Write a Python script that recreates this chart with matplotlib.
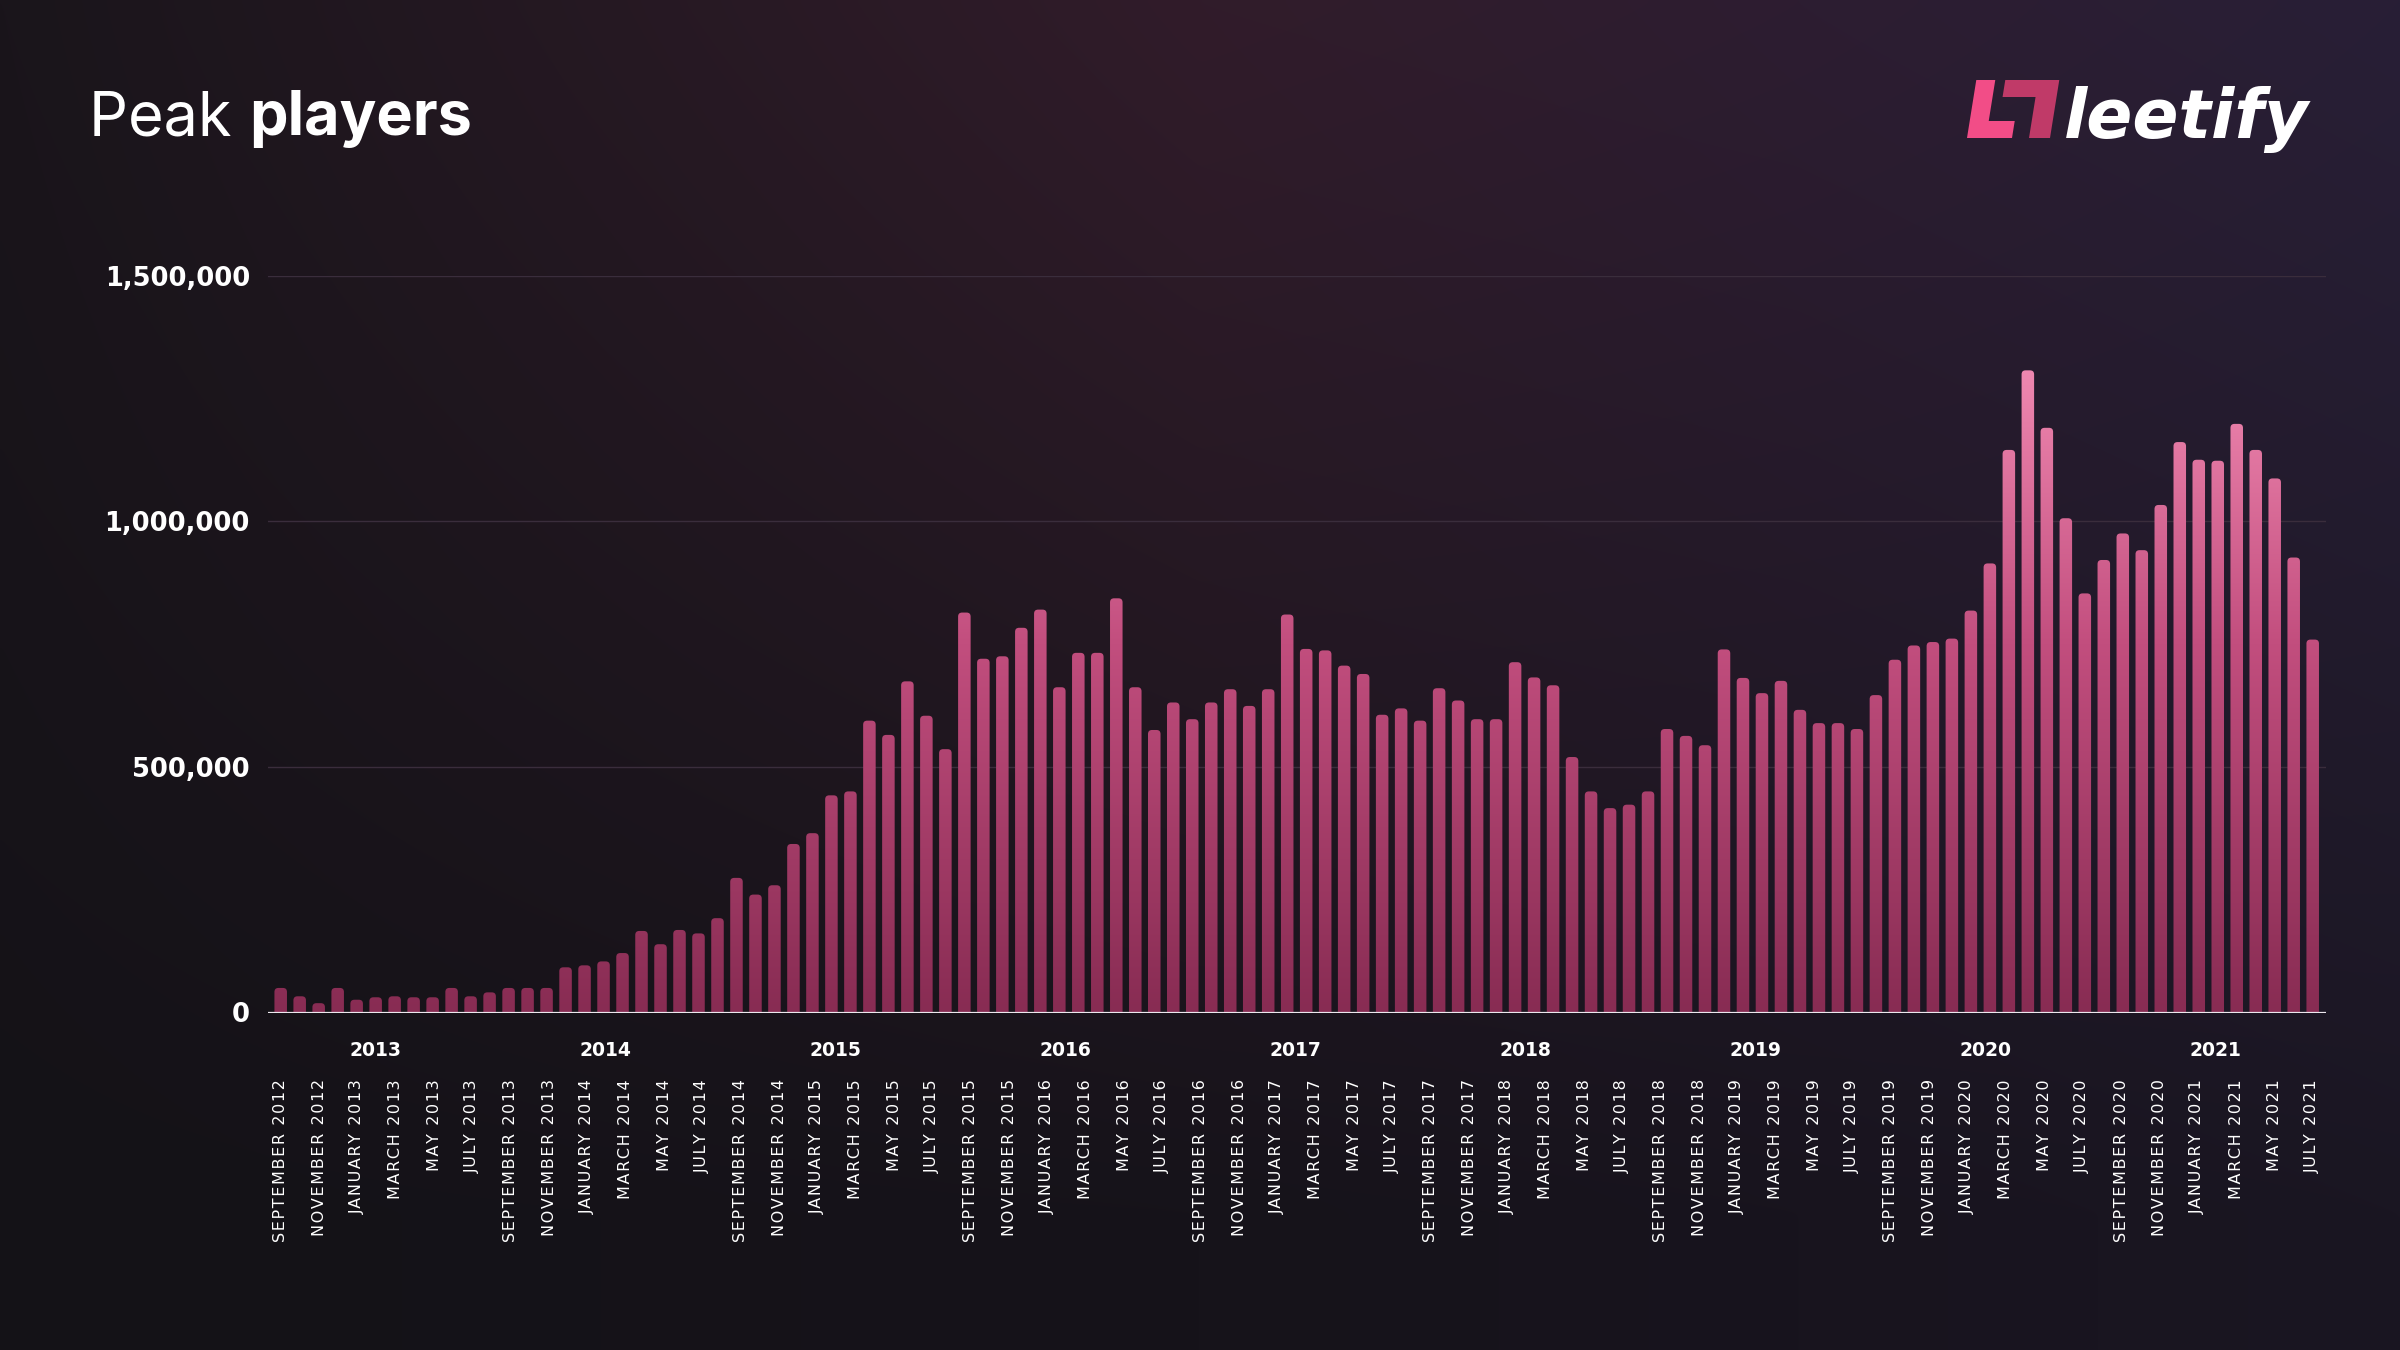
import numpy as np
import matplotlib.pyplot as plt
from matplotlib.patches import FancyBboxPatch, PathPatch, Polygon
from matplotlib.path import Path
from matplotlib.colors import LinearSegmentedColormap
from matplotlib.transforms import blended_transform_factory

# --- data: monthly peak players, August 2012 .. July 2021 ---
peak_players = [
    50000, 33000, 19000, 50000, 26000, 31000, 33000, 31000, 31000, 50000,
    33000, 41000, 50000, 50000, 50000, 92000, 96000, 104000, 121000, 166000,
    139000, 168000, 161000, 192000, 274000, 240000, 259000, 343000, 365000, 442000,
    450000, 594000, 565000, 674000, 604000, 536000, 814000, 720000, 725000, 783000,
    820000, 662000, 732000, 732000, 843000, 662000, 575000, 631000, 597000, 631000,
    658000, 624000, 658000, 810000, 740000, 737000, 706000, 689000, 606000, 619000,
    594000, 660000, 635000, 597000, 597000, 713000, 682000, 666000, 520000, 450000,
    416000, 423000, 450000, 577000, 563000, 544000, 739000, 681000, 650000, 675000,
    616000, 589000, 589000, 577000, 646000, 718000, 747000, 754000, 761000, 818000,
    914000, 1145000, 1307000, 1190000, 1006000, 853000, 921000, 975000, 941000, 1033000,
    1161000, 1125000, 1123000, 1198000, 1145000, 1087000, 926000, 759000,
]

month_names = ['JANUARY', 'FEBRUARY', 'MARCH', 'APRIL', 'MAY', 'JUNE', 'JULY',
               'AUGUST', 'SEPTEMBER', 'OCTOBER', 'NOVEMBER', 'DECEMBER']
month_ticks = []
m, y = 9, 2012
while (y, m) <= (2021, 7):
    month_ticks.append(f'{month_names[m - 1]} {y}')
    m += 2
    if m > 12:
        m -= 12
        y += 1

years = [2013, 2014, 2015, 2016, 2017, 2018, 2019, 2020, 2021]
y_ticks = [0, 500000, 1000000, 1500000]

W_PX, H_PX = 2400, 1350
fx = lambda px: px / W_PX
fy = lambda py: 1 - py / H_PX


def spaced(s):
    # fake letter spacing with hair spaces
    return '\u200a'.join(s)


fig = plt.figure(figsize=(24, 13.5), dpi=100)

# --- background gradient ---
bg_ax = fig.add_axes([0, 0, 1, 1], zorder=-10)
cols_x = np.linspace(0, 1, 480)
rows_y = np.linspace(0, 1, 270)
top_pts = np.array([[26, 21, 27], [49, 28, 42], [45, 29, 49], [40, 31, 54]]) / 255
bot_pts = np.array([[20, 18, 23], [22, 19, 26], [24, 20, 30], [26, 22, 34]]) / 255
stops = [0, 0.5, 0.75, 1]
top = np.stack([np.interp(cols_x, stops, top_pts[:, c]) for c in range(3)], axis=-1)
bot = np.stack([np.interp(cols_x, stops, bot_pts[:, c]) for c in range(3)], axis=-1)
w = np.clip(rows_y / 0.9, 0, 1)[:, None, None] ** 1.1
bg = top[None, :, :] * (1 - w) + bot[None, :, :] * w
bg_ax.imshow(bg, aspect='auto', extent=[0, 1, 0, 1], interpolation='bicubic')
bg_ax.axis('off')

# --- main axes ---
n = len(peak_players)
px_per_bar = (2312.7 - 280.7) / (n - 1)
x_left = -(280.7 - 268) / px_per_bar
x_right = (n - 1) + (2326 - 2312.7) / px_per_bar
ax = fig.add_axes([fx(268), fy(1012.5), fx(2326) - fx(268), (1012.5 - 275.5) / H_PX])
ax.set_facecolor('none')

x = np.arange(n)
bars = ax.bar(x, peak_players, width=0.66, color='none', edgecolor='none')

# rounded bar shapes, filled with one vertical gradient
y_per_px = 1500000 / (1012.5 - 275.5)
r_x = 4 / px_per_bar
r_y = 4 * y_per_px
shapes = []
for b in bars:
    p = FancyBboxPatch((b.get_x(), -r_y), b.get_width(), b.get_height() + r_y,
                       boxstyle=f'round,pad=0,rounding_size={r_x}',
                       mutation_aspect=r_y / r_x)
    shapes.append(p.get_path())
clip = PathPatch(Path.make_compound_path(*shapes), transform=ax.transData,
                 facecolor='none', edgecolor='none')
ax.add_patch(clip)
bar_cmap = LinearSegmentedColormap.from_list('bars', ['#882c53', '#c24e7e', '#ff9cc2'])
grad = np.linspace(0, 1, 256)[:, None]
im = ax.imshow(grad, extent=[x_left, x_right, 0, 1500000], origin='lower',
               aspect='auto', cmap=bar_cmap, zorder=2)
im.set_clip_path(clip)

ax.set_xlim(x_left, x_right)
ax.set_ylim(0, 1500000)
for s in ax.spines.values():
    s.set_visible(False)

ax.set_yticks(y_ticks)
ax.set_yticklabels([f'{v:,}' for v in y_ticks], color='white', fontsize=18.5,
                   fontweight='bold', family='DejaVu Sans')
ax.tick_params(axis='y', length=0, pad=13)
for v in y_ticks[1:]:
    ax.axhline(v, color='#3a2d3c', linewidth=1.0, zorder=1)
ax.axhline(0, color='#ece8ee', linewidth=1.6, zorder=3)

tick_pos = np.linspace(0, n - 1, len(month_ticks))
ax.set_xticks(tick_pos)
ax.set_xticklabels([spaced(s) for s in month_ticks], rotation=90, color='white',
                   fontsize=11.5, family='DejaVu Sans', va='top', ha='center')
ax.tick_params(axis='x', length=0, pad=48)

months_per_bar = (n - 1) / (2 * (len(month_ticks) - 1))
trans = blended_transform_factory(ax.transData, ax.transAxes)
for k, yr in enumerate(years):
    ax.text((4.95 + 12 * k) * months_per_bar, -37.5 / 737, str(yr), transform=trans,
            color='white', fontsize=13.5, fontweight='bold', ha='center', va='center',
            family='DejaVu Sans')

# --- title ---
t1 = fig.text(fx(89), fy(135), 'Peak ', color='white', fontsize=44, family='Inter',
              va='baseline', ha='left')
fig.canvas.draw()
bb = t1.get_window_extent()
fig.text(bb.x1 / W_PX, fy(135), 'players', color='white', fontsize=44, family='Inter',
         fontweight='bold', va='baseline', ha='left')

# --- logo ---
def skew(pts, base=138, k=0.16):
    return [(fx(px + (base - py) * k), fy(py)) for px, py in pts]

left_mark = [(1967, 80), (1986, 80), (1986, 121), (2012, 121), (2012, 138), (1967, 138)]
right_mark = [(1996, 80), (2050, 80), (2050, 138), (2029, 138), (2029, 97), (1996, 97)]
fig.add_artist(Polygon(skew(left_mark), closed=True, transform=fig.transFigure,
                       facecolor='#f24d87', edgecolor='none'))
fig.add_artist(Polygon(skew(right_mark), closed=True, transform=fig.transFigure,
                       facecolor='#c03a68', edgecolor='none'))
fig.text(fx(2064), fy(138), 'leetify', color='white', fontsize=49, family='DejaVu Sans',
         fontweight='bold', style='italic', va='baseline', ha='left')

fig.savefig('out.png', dpi=100)
